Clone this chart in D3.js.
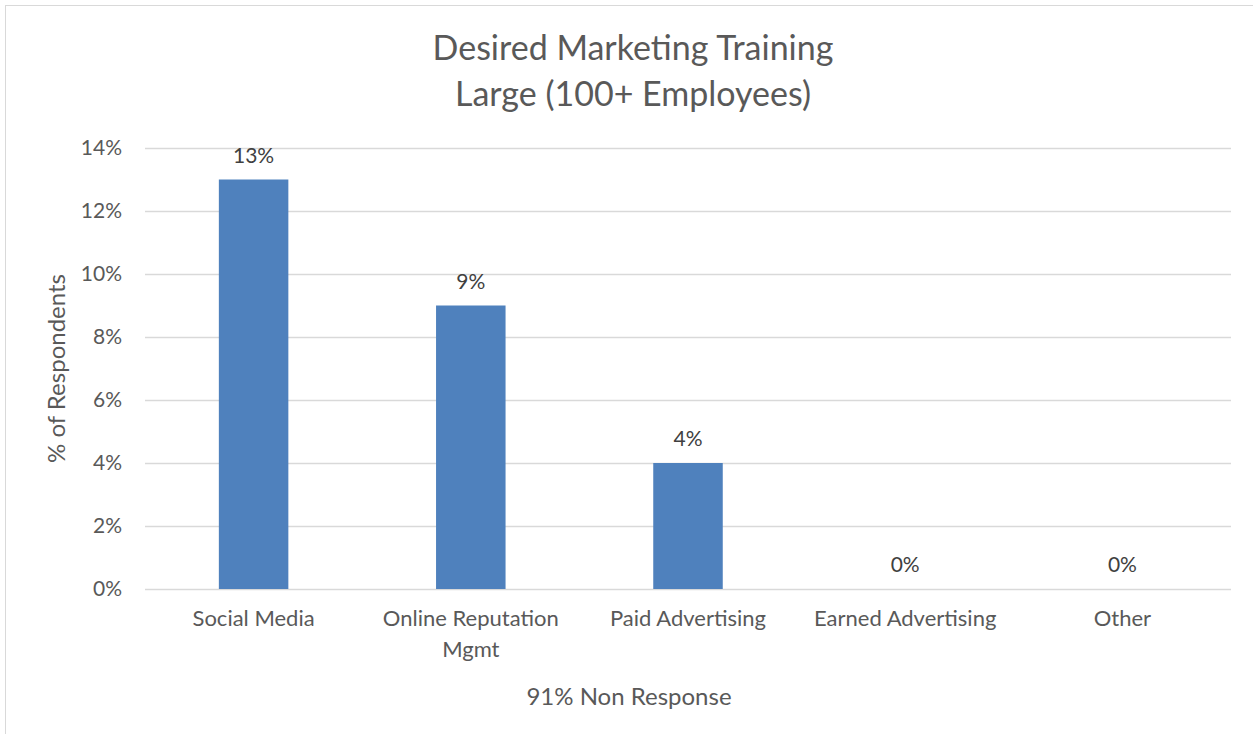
<!DOCTYPE html>
<html>
<head>
<meta charset="utf-8">
<script src="https://cdn.jsdelivr.net/npm/d3@7"></script>
<style>
  body { margin: 0; background: #fff; }
  text { font-family: Lato, "Open Sans", sans-serif; fill: #595959; }
</style>
</head>
<body>
<svg width="1253" height="734"></svg>
<script>
const categories = ['Social Media', 'Online Reputation Mgmt', 'Paid Advertising', 'Earned Advertising', 'Other'];
const values = [0.13, 0.09, 0.04, 0, 0];
const yTicks = [0, 0.02, 0.04, 0.06, 0.08, 0.10, 0.12, 0.14];
const titleLines = ['Desired Marketing Training', 'Large (100+ Employees)'];

const svg = d3.select('svg');
const width = +svg.attr('width');
const height = +svg.attr('height');
const margin = { top: 148, right: 22, bottom: 145, left: 145 };

// chart frame
svg.append('rect')
   .attr('x', 5.5).attr('y', 5.5)
   .attr('width', width + 10).attr('height', height + 10)
   .attr('fill', 'none').attr('stroke', '#d9d9d9');

const x = d3.scaleBand()
            .domain(categories)
            .range([margin.left, width - margin.right])
            .paddingInner(0.68)
            .paddingOuter(0.34);

const y = d3.scaleLinear()
            .domain([0, 0.14])
            .range([height - margin.bottom, margin.top]);

const yAxis = d3.axisLeft(y)
                .tickValues(yTicks)
                .tickFormat(d3.format('.0%'))
                .tickSize(-(width - margin.left - margin.right))
                .tickPadding(23);

const gy = svg.append('g')
              .attr('transform', `translate(${margin.left},0)`)
              .call(yAxis);
gy.select('.domain').remove();
gy.selectAll('line').attr('stroke', '#d9d9d9').attr('stroke-width', 1.3);
gy.selectAll('text').attr('font-size', 21).style('fill', '#595959');

svg.append('g').selectAll('rect')
   .data(values)
   .join('rect')
   .attr('x', (d, i) => x(categories[i]))
   .attr('y', d => y(d))
   .attr('width', x.bandwidth())
   .attr('height', d => y(0) - y(d))
   .attr('fill', '#4f81bd');

svg.append('g').selectAll('text')
   .data(values)
   .join('text')
   .attr('x', (d, i) => x(categories[i]) + x.bandwidth() / 2)
   .attr('y', d => y(d) - 17)
   .attr('text-anchor', 'middle')
   .attr('font-size', 21)
   .style('fill', '#404040')
   .text(d3.format('.0%'));

// category labels, wrapped like the original
const catLines = { 'Online Reputation Mgmt': ['Online Reputation', 'Mgmt'] };
const xl = svg.append('g').selectAll('text')
   .data(categories)
   .join('text')
   .attr('text-anchor', 'middle')
   .attr('font-size', 22)
   .attr('y', y(0) + 37);
xl.each(function(c) {
    const lines = catLines[c] || [c];
    d3.select(this).selectAll('tspan')
      .data(lines)
      .join('tspan')
      .attr('x', x(c) + x.bandwidth() / 2)
      .attr('dy', (d, i) => i ? 31 : 0)
      .text(d => d);
});

svg.append('text')
   .attr('text-anchor', 'middle')
   .attr('font-size', 34)
   .selectAll('tspan')
   .data(titleLines)
   .join('tspan')
   .attr('x', 633)
   .attr('y', (d, i) => 60 + i * 46)
   .text(d => d);

svg.append('text')
   .attr('transform', `translate(65,${(y(0) + y(0.14)) / 2}) rotate(-90)`)
   .attr('text-anchor', 'middle')
   .attr('font-size', 24)
   .text('% of Respondents');

svg.append('text')
   .attr('x', 629)
   .attr('y', 705)
   .attr('text-anchor', 'middle')
   .attr('font-size', 24)
   .text('91% Non Response');
</script>
</body>
</html>
